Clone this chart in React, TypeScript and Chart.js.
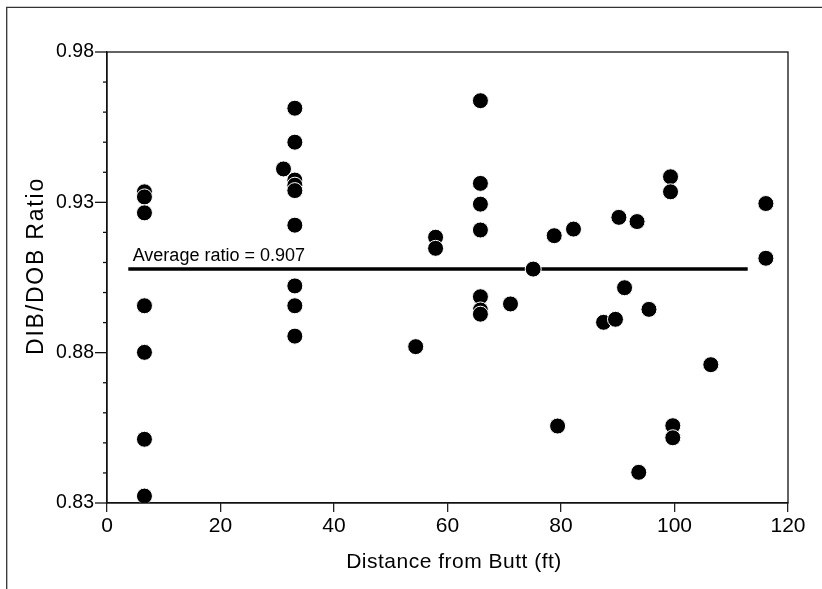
import React, { useEffect, useRef } from "react";
import { Chart, registerables } from "chart.js";

Chart.register(...registerables);

// ---- Data ----
const distanceFt = [
  6.6, 6.6, 6.6, 6.6, 6.6, 6.6, 6.6,
  31.1,
  33.1, 33.1, 33.1, 33.1, 33.1, 33.1, 33.1, 33.1, 33.1,
  54.4,
  57.9, 57.9,
  65.8, 65.8, 65.8, 65.8, 65.8, 65.8, 65.8,
  71.1, 75.1, 78.8, 79.4, 82.2, 87.5, 89.6, 90.2, 91.2, 93.4, 93.7, 95.5,
  99.3, 99.3, 99.7, 99.7,
  106.4,
  116.1, 116.1,
];
const dibDobRatio = [
  0.9335, 0.9318, 0.9265, 0.8956, 0.8801, 0.8512, 0.8323,
  0.9411,
  0.9613, 0.95, 0.9374, 0.9357, 0.9339, 0.9224, 0.9022, 0.8956, 0.8855,
  0.882,
  0.9184, 0.9147,
  0.9638, 0.9363, 0.9294, 0.9208, 0.8986, 0.8942, 0.8928,
  0.8962, 0.9078, 0.9189, 0.8556, 0.9211, 0.8901, 0.8911, 0.925, 0.9016, 0.9236, 0.8402, 0.8944,
  0.9385, 0.9335, 0.8557, 0.8517,
  0.876,
  0.9296, 0.9114,
];
const avgLineX = [3.75, 112.9];
const avgLineY = [0.9078, 0.9078];
const avgLabel = "Average ratio = 0.907";
const yMajorTicks = [0.83, 0.88, 0.93, 0.98];
const xTitle = "Distance from Butt (ft)";
const yTitle = "DIB/DOB Ratio";

const FONT = '"Liberation Sans", Arial, Helvetica, sans-serif';

const decorPlugin = {
  id: "decor",
  afterDraw(chart: any) {
    const { ctx, chartArea: a, scales } = chart;
    const x = scales.x;
    const y = scales.y;
    ctx.save();
    // outer frame (top + left)
    ctx.strokeStyle = "#333";
    ctx.lineWidth = 1.3;
    ctx.beginPath();
    ctx.moveTo(6.7, 589);
    ctx.lineTo(6.7, 7.3);
    ctx.lineTo(822, 7.3);
    ctx.stroke();
    // plot box
    ctx.strokeStyle = "#111";
    ctx.lineWidth = 1.3;
    ctx.strokeRect(a.left, a.top, a.right - a.left, a.bottom - a.top);
    // y tick marks (major + minor)
    y.ticks.forEach((t: any) => {
      const py = y.getPixelForValue(t.value);
      const major = yMajorTicks.some((m) => Math.abs(m - t.value) < 1e-6);
      ctx.beginPath();
      ctx.moveTo(a.left - (major ? 12 : 4), py);
      ctx.lineTo(a.left, py);
      ctx.stroke();
    });
    // average label
    ctx.fillStyle = "#000";
    ctx.font = `18px ${FONT}`;
    ctx.textAlign = "left";
    ctx.textBaseline = "alphabetic";
    ctx.fillText(
      avgLabel,
      x.getPixelForValue(avgLineX[0]) + 4.4,
      y.getPixelForValue(avgLineY[0]) - 8
    );
    // axis titles
    ctx.textAlign = "center";
    ctx.font = `21px ${FONT}`;
    (ctx as any).letterSpacing = "0.5px";
    ctx.fillText(xTitle, 454, 567.7);
    ctx.font = `23px ${FONT}`;
    (ctx as any).letterSpacing = "1.8px";
    ctx.translate(43.3, 266);
    ctx.rotate(-Math.PI / 2);
    ctx.fillText(yTitle, 0, 0);
    (ctx as any).letterSpacing = "0px";
    ctx.restore();
  },
};

export default function App() {
  const canvasRef = useRef<HTMLCanvasElement | null>(null);

  useEffect(() => {
    if (!canvasRef.current) return;
    const points = distanceFt.map((d, i) => ({ x: d, y: dibDobRatio[i] }));
    const avgPoints = avgLineX.map((d, i) => ({ x: d, y: avgLineY[i] }));
    const chart = new Chart(canvasRef.current, {
      type: "scatter",
      data: {
        datasets: [
          {
            type: "scatter",
            label: "DIB/DOB",
            data: points,
            backgroundColor: "#000",
            borderColor: "#fff",
            borderWidth: 1,
            pointRadius: 8,
            pointHoverRadius: 8,
            order: 0,
          },
          {
            type: "line",
            label: "Average",
            data: avgPoints,
            borderColor: "#000",
            borderWidth: 3.5,
            pointRadius: 0,
            fill: false,
            order: 1,
          } as any,
        ],
      },
      options: {
        animation: false,
        responsive: false,
        devicePixelRatio: 1,
        events: [],
        layout: { padding: { top: 52, right: 34, left: 0, bottom: 0 } },
        plugins: {
          legend: { display: false },
          tooltip: { enabled: false },
          title: { display: false },
        },
        scales: {
          x: {
            type: "linear",
            min: 0,
            max: 120,
            afterFit: (s: any) => {
              s.height = 86;
            },
            grid: {
              display: true,
              drawOnChartArea: false,
              drawTicks: true,
              tickLength: 9,
              color: "#222",
              lineWidth: 1.3,
            },
            border: { display: true, color: "#111", width: 1.3 },
            ticks: {
              stepSize: 20,
              padding: 2,
              color: "#000",
              font: { family: FONT, size: 21 },
              maxRotation: 0,
            },
          },
          y: {
            type: "linear",
            min: 0.83,
            max: 0.98,
            afterFit: (s: any) => {
              s.width = 107;
            },
            grid: { display: false, drawTicks: false, tickLength: 0 },
            border: { display: true, color: "#111", width: 1.3 },
            ticks: {
              stepSize: 0.01,
              padding: 13,
              color: "#000",
              font: { family: FONT, size: 19.5 },
              autoSkip: false,
              callback: (v: any) => {
                const n = Number(v);
                return yMajorTicks.some((m) => Math.abs(m - n) < 1e-6)
                  ? n.toFixed(2)
                  : "";
              },
            },
          },
        },
      },
      plugins: [decorPlugin],
    } as any);
    return () => chart.destroy();
  }, []);

  return (
    <div
      style={{
        position: "absolute",
        left: 0,
        top: 0,
        width: 822,
        height: 589,
        background: "#fff",
      }}
    >
      <canvas ref={canvasRef} width={822} height={589} />
    </div>
  );
}
